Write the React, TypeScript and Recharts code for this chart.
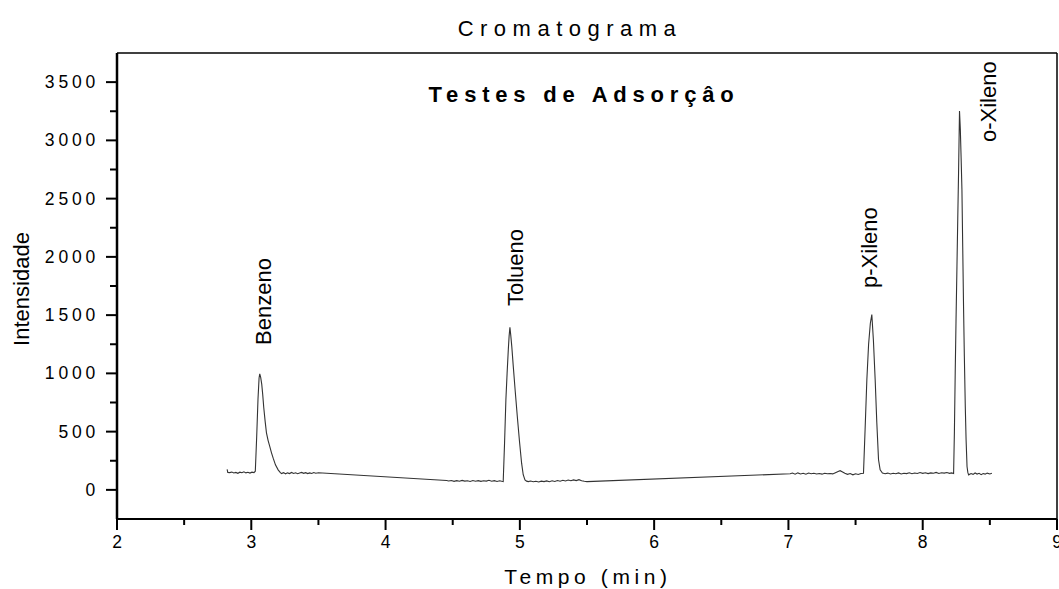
import React from 'react';
import { LineChart, Line, XAxis, YAxis, ReferenceLine, ReferenceDot } from 'recharts';

// Chromatogram trace (time in min, intensity)
const time = [
  2.82, 2.825, 2.84, 2.855, 2.87, 2.885, 2.9, 2.915, 2.93, 2.945, 2.96, 2.975, 2.99, 3.005, 3.02, 3.03,
  3.04, 3.05, 3.058, 3.063, 3.07, 3.078, 3.085, 3.093, 3.103, 3.113, 3.125, 3.138, 3.15, 3.163, 3.18, 3.2, 3.215, 3.225,
  3.24, 3.255, 3.27, 3.285, 3.3, 3.315, 3.33, 3.345, 3.36, 3.375, 3.39, 3.405, 3.42, 3.435, 3.45, 3.465, 3.48, 3.5,
  4.455,
  4.47, 4.49, 4.51, 4.53, 4.55, 4.57, 4.59, 4.61, 4.63, 4.65, 4.67, 4.69, 4.71, 4.73, 4.75, 4.77, 4.79, 4.81, 4.83, 4.85, 4.865, 4.876,
  4.886, 4.896, 4.905, 4.914, 4.92, 4.926, 4.932, 4.94, 4.951, 4.966, 4.981, 4.997, 5.013, 5.025, 5.038, 5.05, 5.063,
  5.08, 5.1, 5.12, 5.14, 5.16, 5.18, 5.2, 5.22, 5.24, 5.26, 5.28, 5.3, 5.32, 5.34, 5.36, 5.38, 5.4, 5.42, 5.44, 5.46, 5.48, 5.5,
  7.013,
  7.03, 7.05, 7.07, 7.09, 7.11, 7.13, 7.15, 7.17, 7.19, 7.21, 7.23, 7.25, 7.27, 7.29, 7.31, 7.33, 7.35, 7.37, 7.385, 7.4, 7.42, 7.44, 7.46, 7.48, 7.5, 7.52, 7.54, 7.559,
  7.571, 7.584, 7.597, 7.61, 7.621, 7.633, 7.646, 7.658, 7.671, 7.683, 7.7, 7.72,
  7.74, 7.76, 7.78, 7.8, 7.82, 7.84, 7.86, 7.88, 7.9, 7.92, 7.94, 7.96, 7.98, 8.0, 8.02, 8.04, 8.06, 8.08, 8.1, 8.12, 8.14, 8.16, 8.18, 8.2, 8.215, 8.23,
  8.236, 8.242, 8.248, 8.255, 8.261, 8.267, 8.274, 8.28, 8.286, 8.292, 8.298, 8.304, 8.31, 8.317, 8.323, 8.33, 8.336, 8.342,
  8.36, 8.375, 8.39, 8.405, 8.42, 8.435, 8.45, 8.465, 8.48, 8.5, 8.515,
];
const intensity = [
  175, 150, 148, 153, 145, 150, 142, 152, 147, 155, 146, 151, 144, 152, 148, 160,
  450, 780, 960, 995, 965, 905, 820, 705, 590, 490, 425, 372, 320, 272, 215, 172, 150, 140,
  148, 138, 146, 140, 150, 141, 147, 139, 145, 150, 142, 148, 140, 146, 141, 149, 143, 147,
  80,
  76, 80, 73, 79, 74, 81, 75, 78, 72, 80, 74, 79, 73, 78, 75, 82, 74, 79, 72, 78, 74, 72,
  400, 774, 1000, 1204, 1320, 1396, 1330, 1230, 1060, 840, 630, 420, 229, 130, 86, 75, 71,
  76, 70, 74, 68, 75, 71, 77, 70, 78, 72, 80, 74, 82, 76, 84, 78, 86, 80, 88, 79, 74, 71,
  138,
  144, 135, 146, 137, 143, 134, 145, 138, 142, 136, 141, 135, 143, 138, 140, 137, 148, 158, 165, 155, 142, 133, 140, 129, 138, 132, 141, 143,
  520, 946, 1250, 1430, 1505, 1280, 946, 580, 258, 172, 145, 138,
  144, 136, 142, 138, 146, 137, 143, 140, 147, 139, 145, 141, 149, 142, 147, 140, 146, 143, 150, 141, 147, 144, 149, 142, 146, 140,
  500, 1003, 1450, 1920, 2330, 2726, 3253, 3100, 2850, 2580, 2080, 1576, 1150, 716, 430, 200, 150, 129,
  140, 133, 145, 136, 142, 131, 140, 135, 144, 137, 143,
];

const xTicks = [2, 2.5, 3, 3.5, 4, 4.5, 5, 5.5, 6, 6.5, 7, 7.5, 8, 8.5, 9];
const yTicks = [0, 250, 500, 750, 1000, 1250, 1500, 1750, 2000, 2250, 2500, 2750, 3000, 3250, 3500];
const xDomain = [2, 9];
const yDomain = [-250, 3750];

const peakNames = ['Benzeno', 'Tolueno', 'p-Xileno', 'o-Xileno'];
const peakLabelTime = [3.15, 5.023, 7.662, 8.548];
const peakLabelIntensity = [1244, 1578, 1733, 2986];

const chartTitle = 'Cromatograma';
const innerTitle = 'Testes de Adsorçâo';
const xLabel = 'Tempo (min)';
const yLabel = 'Intensidade';

const data = time.map((t, i) => ({ t, v: intensity[i] }));
const FONT = '"Liberation Sans", Arial, Helvetica, sans-serif';

const XTick = (props: any) => {
  const { x, y, payload } = props;
  const major = Number.isInteger(payload.value);
  return (
    <g>
      <line x1={x} x2={x} y1={y} y2={y + (major ? 11 : 6)} stroke="#000" strokeWidth={2} />
      {major && (
        <text x={x} y={y + 29} textAnchor="middle" fontSize={17.5} fontFamily={FONT} fill="#000">
          {payload.value}
        </text>
      )}
    </g>
  );
};

const YTick = (props: any) => {
  const { x, y, payload } = props;
  const major = payload.value % 500 === 0;
  return (
    <g>
      <line x1={x - (major ? 11 : 7)} x2={x} y1={y} y2={y} stroke="#000" strokeWidth={2} />
      {major && (
        <text x={x - 18} y={y + 6} textAnchor="end" fontSize={17.5} letterSpacing={3.8} fontFamily={FONT} fill="#000">
          {payload.value}
        </text>
      )}
    </g>
  );
};

const PeakLabel = (name: string) => (props: any) => {
  const { cx, cy } = props;
  return (
    <text
      x={cx}
      y={cy}
      transform={`rotate(-90, ${cx}, ${cy})`}
      textAnchor="start"
      fontSize={22}
      fontFamily={FONT}
      fill="#000"
    >
      {name}
    </text>
  );
};

export default function App() {
  return (
    <div style={{ position: 'absolute', left: 0, top: 0, width: 1059, height: 589, background: '#fff' }}>
      <LineChart width={1059} height={589} data={data} margin={{ top: 53, right: 2, bottom: 0, left: 0 }}>
        <XAxis
          dataKey="t"
          type="number"
          domain={xDomain}
          ticks={xTicks}
          interval={0}
          height={70}
          tickSize={0}
          tickMargin={0}
          tickLine={false}
          tick={XTick}
          axisLine={{ stroke: '#000', strokeWidth: 2 }}
          allowDataOverflow
        />
        <YAxis
          type="number"
          domain={yDomain}
          ticks={yTicks}
          interval={0}
          width={117}
          tickSize={0}
          tickMargin={0}
          tickLine={false}
          tick={YTick}
          axisLine={{ stroke: '#000', strokeWidth: 2.5 }}
          allowDataOverflow
        />
        <ReferenceLine y={3750} stroke="#000" strokeWidth={1.5} ifOverflow="visible" />
        <ReferenceLine x={9} stroke="#000" strokeWidth={1.5} ifOverflow="visible" />
        <Line
          dataKey="v"
          type="linear"
          stroke="#333"
          strokeWidth={1.1}
          dot={false}
          activeDot={false}
          isAnimationActive={false}
        />
        {peakNames.map((name, i) => (
          <ReferenceDot
            key={name}
            x={peakLabelTime[i]}
            y={peakLabelIntensity[i]}
            r={0}
            ifOverflow="visible"
            shape={PeakLabel(name)}
          />
        ))}
      </LineChart>
      <svg
        width={1059}
        height={589}
        style={{ position: 'absolute', left: 0, top: 0, pointerEvents: 'none' }}
      >
        <text x={570} y={36} textAnchor="middle" fontSize={22} letterSpacing={6.5} fontFamily={FONT} fill="#000">
          {chartTitle}
        </text>
        <text x={584} y={102} textAnchor="middle" fontSize={22} fontWeight="bold" letterSpacing={5.8} fontFamily={FONT} fill="#000">
          {innerTitle}
        </text>
        <text x={588} y={584} textAnchor="middle" fontSize={21} letterSpacing={4.6} fontFamily={FONT} fill="#000">
          {xLabel}
        </text>
        <text x={29} y={289} transform="rotate(-90, 29, 289)" textAnchor="middle" fontSize={22} fontFamily={FONT} fill="#000">
          {yLabel}
        </text>
      </svg>
    </div>
  );
}
